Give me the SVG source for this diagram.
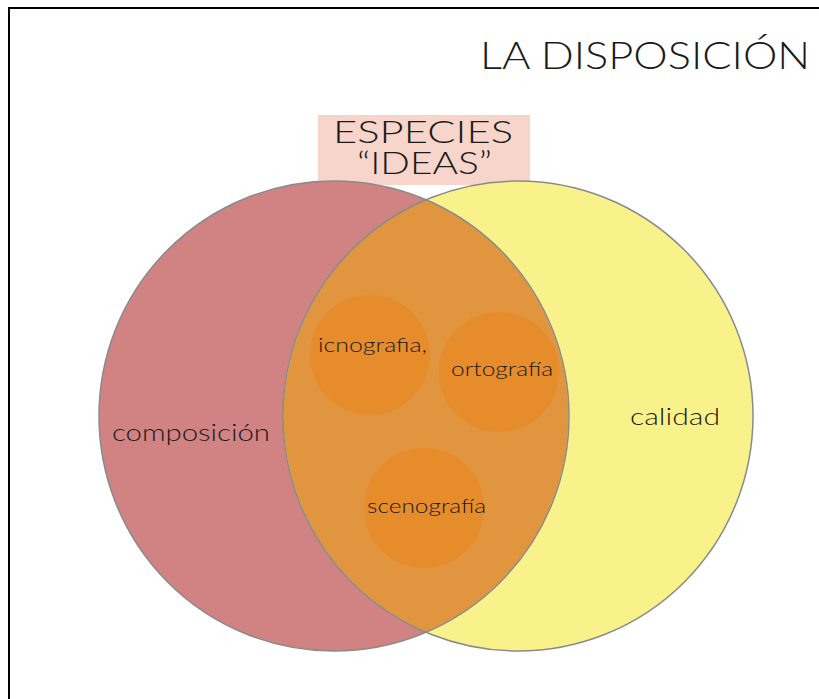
<svg xmlns="http://www.w3.org/2000/svg" width="819" height="699" viewBox="0 0 819 699">
<style>
.t{font-family:"Lato","Open Sans","Liberation Sans",sans-serif;fill:#1a1a1a;font-weight:300}
.big{font-size:38px}
.mid{font-size:32px}
.lbl{font-size:23px}
.sm{font-size:20px}
.ring{fill:none;stroke:#8a8a8a;stroke-width:1.5}
.inner{fill:#E88B27;opacity:0.85}
</style>
<rect x="0" y="0" width="819" height="699" fill="#ffffff"/>
<path d="M9 699 V8 H819" fill="none" stroke="#000" stroke-width="2"/>
<g id="title"><text class="t big" x="480" y="69" textLength="330" lengthAdjust="spacingAndGlyphs">LA DISPOSICIÓN</text></g>
<g id="especies">
<rect x="318" y="115" width="212" height="70" fill="#F7D5CB"/>
<text class="t mid" x="333" y="143" textLength="180" lengthAdjust="spacingAndGlyphs">ESPECIES</text>
<text class="t mid" x="357" y="174" textLength="135" lengthAdjust="spacingAndGlyphs">“IDEAS”</text>
</g>
<g id="composicion">
<circle cx="334" cy="416" r="235" fill="#D07F7F" fill-opacity="0.97"/>
</g>
<g id="calidad">
<circle cx="518" cy="416" r="235" fill="#F9F28A"/>
</g>
<g id="overlap">
<path d="M426 200 A235 235 0 0 1 426 632 A235 235 0 0 1 426 200 Z" fill="#E0953E"/>
</g>
<circle class="ring" cx="334" cy="416" r="235"/>
<circle class="ring" cx="518" cy="416" r="235"/>
<text class="t lbl" x="112" y="441" textLength="158" lengthAdjust="spacingAndGlyphs">composición</text>
<text class="t lbl" x="630" y="425" textLength="90" lengthAdjust="spacingAndGlyphs">calidad</text>
<g id="icnografia">
<circle class="inner" cx="370" cy="355" r="60"/>
<text class="t sm" x="318" y="352" textLength="109" lengthAdjust="spacingAndGlyphs">icnografia,</text>
</g>
<g id="ortografia">
<circle class="inner" cx="499" cy="372" r="60"/>
<text class="t sm" x="451" y="376" textLength="102" lengthAdjust="spacingAndGlyphs">ortografía</text>
</g>
<g id="scenografia">
<circle class="inner" cx="424" cy="508" r="60"/>
<text class="t sm" x="367" y="513" textLength="119" lengthAdjust="spacingAndGlyphs">scenografía</text>
</g>
<g id="connectors"/>
</svg>
